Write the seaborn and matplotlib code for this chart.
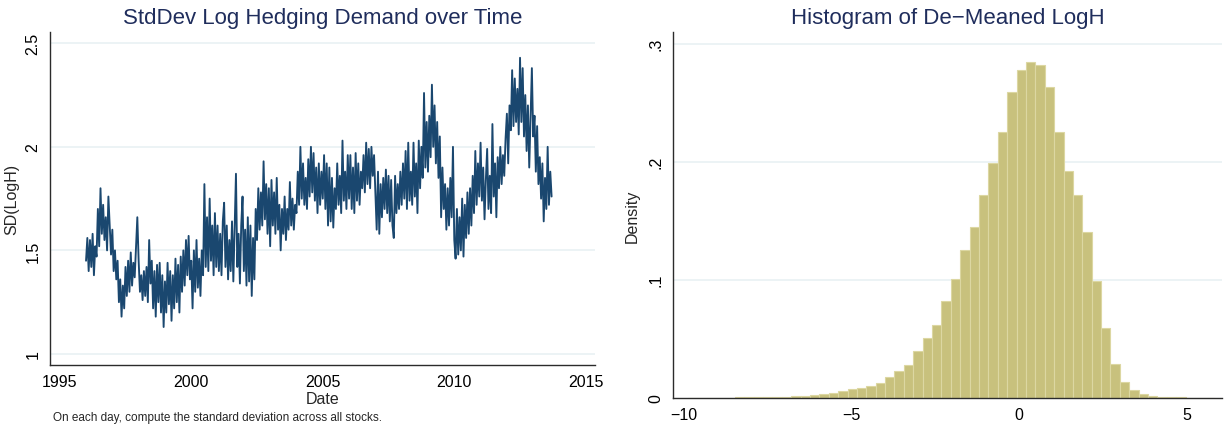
import numpy as np
import pandas as pd
import matplotlib
matplotlib.use("Agg")
import matplotlib.pyplot as plt
import seaborn as sns

# --- data --------------------------------------------------------------
# SD(LogH): one value every 0.05 year, per calendar year
sd_1996 = [1.45, 1.56, 1.40, 1.55, 1.42, 1.58, 1.38, 1.52, 1.47, 1.70,
           1.52, 1.80, 1.58, 1.72, 1.55, 1.66, 1.50, 1.76, 1.62, 1.48]
sd_1997 = [1.60, 1.40, 1.50, 1.36, 1.45, 1.25, 1.36, 1.18, 1.33, 1.22,
           1.42, 1.28, 1.45, 1.30, 1.49, 1.33, 1.44, 1.37, 1.52, 1.66]
sd_1998 = [1.45, 1.30, 1.38, 1.26, 1.40, 1.28, 1.42, 1.25, 1.55, 1.34,
           1.45, 1.22, 1.40, 1.18, 1.43, 1.25, 1.44, 1.20, 1.38, 1.13]
sd_1999 = [1.35, 1.20, 1.44, 1.24, 1.40, 1.16, 1.38, 1.22, 1.46, 1.25,
           1.43, 1.20, 1.47, 1.30, 1.50, 1.33, 1.55, 1.38, 1.57, 1.36]
sd_2000 = [1.45, 1.22, 1.50, 1.30, 1.55, 1.32, 1.46, 1.28, 1.50, 1.38,
           1.82, 1.42, 1.66, 1.40, 1.75, 1.45, 1.62, 1.38, 1.68, 1.42]
sd_2001 = [1.62, 1.40, 1.58, 1.38, 1.64, 1.73, 1.42, 1.62, 1.36, 1.55,
           1.40, 1.64, 1.35, 1.60, 1.87, 1.42, 1.58, 1.34, 1.62, 1.76]
sd_2002 = [1.40, 1.60, 1.33, 1.66, 1.35, 1.62, 1.28, 1.56, 1.36, 1.70,
           1.55, 1.80, 1.60, 1.78, 1.62, 1.93, 1.65, 1.82, 1.58, 1.80]
sd_2003 = [1.52, 1.84, 1.62, 1.78, 1.58, 1.85, 1.60, 1.72, 1.50, 1.70,
           1.58, 1.76, 1.55, 1.70, 1.60, 1.83, 1.62, 1.75, 1.60, 1.72]
sd_2004 = [1.68, 1.88, 1.72, 2.00, 1.75, 1.92, 1.72, 1.85, 1.70, 1.94,
           1.76, 2.00, 1.78, 1.97, 1.74, 1.90, 1.68, 1.92, 1.72, 1.88]
sd_2005 = [1.75, 1.96, 1.70, 1.92, 1.62, 1.90, 1.64, 1.85, 1.61, 1.80,
           1.70, 1.92, 1.72, 1.86, 1.68, 2.03, 1.74, 1.88, 1.70, 1.96]
sd_2006 = [1.75, 1.96, 1.70, 1.90, 1.68, 1.97, 1.74, 1.92, 1.72, 1.88,
           1.80, 1.96, 1.78, 2.02, 1.82, 1.99, 1.80, 2.00, 1.86, 1.96]
sd_2007 = [1.78, 1.60, 1.88, 1.58, 1.82, 1.66, 1.85, 1.70, 1.89, 1.68,
           1.86, 1.64, 1.84, 1.62, 1.56, 1.86, 1.68, 1.82, 1.70, 1.88]
sd_2008 = [1.72, 1.92, 1.75, 1.98, 1.70, 2.02, 1.74, 1.88, 1.72, 2.02,
           1.76, 1.92, 1.68, 2.03, 1.80, 2.00, 1.85, 2.26, 1.90, 2.12]
sd_2009 = [1.88, 2.15, 1.95, 2.30, 2.00, 2.20, 1.92, 2.12, 1.85, 2.05,
           1.66, 1.90, 1.70, 1.82, 1.60, 1.80, 1.62, 1.85, 1.66, 2.00]
sd_2010 = [1.55, 1.46, 1.70, 1.48, 1.66, 1.50, 1.75, 1.47, 1.72, 1.56,
           1.78, 1.58, 1.80, 1.62, 1.86, 1.68, 1.98, 1.72, 1.92, 1.76]
sd_2011 = [2.02, 1.74, 1.90, 1.65, 1.84, 1.99, 1.70, 1.86, 1.68, 2.11,
           1.76, 1.92, 1.66, 1.95, 1.80, 2.00, 1.82, 1.96, 1.86, 2.04]
sd_2012 = [2.16, 1.92, 2.20, 2.08, 2.37, 2.10, 2.33, 2.12, 2.28, 2.06,
           2.43, 2.12, 2.38, 2.05, 2.25, 1.98, 2.20, 1.90, 2.15, 2.38]
sd_2013 = [2.05, 2.15, 1.88, 2.10, 1.82, 1.95, 1.75, 1.92, 1.64, 1.85,
           1.70, 2.00, 1.72, 1.88, 1.76]

# histogram of de-meaned LogH (density per bin)
hist_start = -9.865
hist_width = 0.28
hist_density = [0.0001, 0.0001, 0.0001, 0.0001, 0.0001, 0.0002, 0.0002, 0.0003,
                0.0004, 0.0006, 0.0008, 0.0011, 0.0017, 0.0023, 0.0031, 0.0042,
                0.0060, 0.0074, 0.0086, 0.0103, 0.0124, 0.0172, 0.0224, 0.0276,
                0.0400, 0.0504, 0.0617, 0.0822, 0.1006, 0.1254, 0.1444, 0.1718,
                0.1986, 0.2249, 0.2588, 0.2777, 0.2847, 0.2819, 0.2633, 0.2249,
                0.1924, 0.1718, 0.1402, 0.0986, 0.0589, 0.0282, 0.0135, 0.0062,
                0.0028, 0.0011, 0.0005, 0.0003, 0.0002, 0.0001, 0.0001, 0.0001]

left_yticks = [1, 1.5, 2, 2.5]
left_yticklabels = ["1", "1.5", "2", "2.5"]
left_xticks = [1995, 2000, 2005, 2010, 2015]
right_yticks = [0, 0.1, 0.2, 0.3]
right_yticklabels = ["0", ".1", ".2", ".3"]
right_xticks = [-10, -5, 0, 5]

# --- build tables -------------------------------------------------------
years = {1996: sd_1996, 1997: sd_1997, 1998: sd_1998, 1999: sd_1999,
         2000: sd_2000, 2001: sd_2001, 2002: sd_2002, 2003: sd_2003,
         2004: sd_2004, 2005: sd_2005, 2006: sd_2006, 2007: sd_2007,
         2008: sd_2008, 2009: sd_2009, 2010: sd_2010, 2011: sd_2011,
         2012: sd_2012, 2013: sd_2013}
rows = []
for yr, vals in years.items():
    for i, v in enumerate(vals):
        rows.append((yr + 0.05 * i, v))
ts = pd.DataFrame(rows, columns=["date", "sd"])

n_bins = len(hist_density)
hist_end = hist_start + hist_width * n_bins
mids = hist_start + hist_width * (np.arange(n_bins) + 0.5)
hist = pd.DataFrame({"mid": mids, "dens": hist_density})

# --- style --------------------------------------------------------------
sns.set_style("white")
plt.rcParams["font.family"] = ["Liberation Sans", "DejaVu Sans"]

title_col = "#1f2d5c"
line_col = "#1a476f"
grid_col = "#e9f1f3"
axis_col = "#2b2b2b"

W, H = 1225, 427
fig = plt.figure(figsize=(W / 100, H / 100), dpi=100)
ax1 = fig.add_axes([50 / W, 1 - 365.7 / H, (595 - 50) / W, (365.7 - 33.3) / H])
ax2 = fig.add_axes([673.3 / W, 1 - 398.7 / H, (1222 - 673.3) / W, (398.7 - 33.3) / H])


def stata_axes(ax):
    for s in ["top", "right"]:
        ax.spines[s].set_visible(False)
    for s in ["left", "bottom"]:
        ax.spines[s].set_color(axis_col)
        ax.spines[s].set_linewidth(1.0)
    ax.tick_params(direction="out", length=4, width=0.8, color=axis_col,
                   labelsize=11.5, labelcolor="black", pad=3)
    ax.grid(False)


# left: time series
for y in left_yticks:
    ax1.axhline(y, color=grid_col, lw=1.2, zorder=0)
sns.lineplot(data=ts, x="date", y="sd", ax=ax1, color=line_col, lw=1.35,
             estimator=None, sort=True)
ax1.set_xlim(1994.63, 2015.35)
ax1.set_ylim(0.948, 2.553)
ax1.set_xticks(left_xticks)
ax1.set_yticks(left_yticks)
ax1.set_yticklabels(left_yticklabels, rotation=90, va="center")
stata_axes(ax1)
ax1.set_xlabel("Date", fontsize=11.5, labelpad=1)
ax1.set_ylabel("SD(LogH)", fontsize=11.5, labelpad=4)
ax1.set_title("StdDev Log Hedging Demand over Time", fontsize=16,
              color=title_col, pad=7)
fig.text(53 / W, 1 - 418 / H, "On each day, compute the standard deviation across all stocks.",
         fontsize=8.5, va="center", ha="left")

# right: histogram
for y in right_yticks[1:]:
    ax2.axhline(y, color=grid_col, lw=1.2, zorder=0)
sns.histplot(data=hist, x="mid", weights="dens", binwidth=hist_width,
             binrange=(hist_start, hist_end), ax=ax2,
             color="#c8c17d", edgecolor="#dcd7a2", linewidth=0.8, alpha=1)
ax2.set_xlim(-10.30, 6.06)
ax2.set_ylim(0, 0.3097)
ax2.set_xticks(right_xticks)
ax2.set_yticks(right_yticks)
ax2.set_yticklabels(right_yticklabels, rotation=90, va="center")
stata_axes(ax2)
ax2.set_xlabel("")
ax2.set_ylabel("Density", fontsize=11.5, labelpad=6)
ax2.set_title("Histogram of De\u2212Meaned LogH", fontsize=16,
              color=title_col, pad=7)

fig.savefig("out.png", dpi=100)
